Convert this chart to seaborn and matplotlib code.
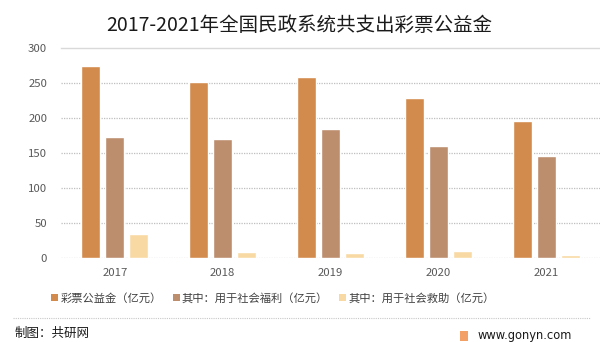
import matplotlib
matplotlib.use("Agg")
import matplotlib.pyplot as plt
from matplotlib.patches import Patch, Rectangle
from matplotlib.lines import Line2D
import seaborn as sns
import pandas as pd

years = ["2017", "2018", "2019", "2020", "2021"]
series_names = ["彩票公益金（亿元）", "其中：用于社会福利（亿元）", "其中：用于社会救助（亿元）"]
lottery_total = [275, 252, 259, 229, 196]
welfare = [173, 170, 185, 160, 146]
relief = [35, 9.5, 7.5, 10.5, 5]
colors = ["#D38B4D", "#BC8E6E", "#F8D9A3"]
yticks = [0, 50, 100, 150, 200, 250, 300]
title = "2017-2021年全国民政系统共支出彩票公益金"
source_text = "制图：共研网"
site_text = "www.gonyn.com"

rows = []
for name, vals in zip(series_names, [lottery_total, welfare, relief]):
    for y, v in zip(years, vals):
        rows.append({"year": y, "series": name, "value": v})
df = pd.DataFrame(rows)

sns.set_theme(style="white")
plt.rcParams['font.family'] = ['Noto Sans CJK SC', 'DejaVu Sans']

fig = plt.figure(figsize=(6.0, 3.42), dpi=100)
ax = fig.add_axes([61/600, 83.7/342, 539/600, 210/342])

sns.barplot(data=df, x="year", y="value", hue="series", hue_order=series_names,
            palette=colors, width=0.667, gap=0.208, ax=ax, legend=False,
            saturation=1, errorbar=None)

ax.set_ylim(0, 300)
ax.set_xlim(-0.5, 4.5)
ax.set_yticks(yticks)
ax.set_xlabel("")
ax.set_ylabel("")
for s in ["left", "right", "bottom"]:
    ax.spines[s].set_visible(False)
ax.spines["top"].set_visible(True)
ax.spines["top"].set_color("#D9D9D9")
ax.spines["top"].set_linewidth(1.0)
for t in yticks[:-1]:
    ax.axhline(t, color="#BFBFBF", linestyle=(0, (1, 1)), linewidth=0.9, zorder=0)
ax.tick_params(axis="both", length=0, labelsize=8.2, labelcolor="#595959")
ax.tick_params(axis="y", pad=10)
ax.tick_params(axis="x", pad=7)

fig.text(299/600, 1 - 25/342, title, ha="center", va="center", fontsize=14, color="#1A1A1A")

handles = [Patch(facecolor=c, edgecolor="none") for c in colors]
fig.legend(handles, series_names, loc="center", bbox_to_anchor=(273/600, 1 - 298/342),
           ncol=3, frameon=False, fontsize=8.1, handlelength=0.6, handleheight=0.6,
           handletextpad=0.2, columnspacing=1.0, labelcolor="#404040")

fig.add_artist(Line2D([13/600, 590/600], [1 - 318/342, 1 - 318/342], color="#C8C8C8",
                      linestyle=(0, (1, 1)), linewidth=0.8, transform=fig.transFigure))

fig.text(15/600, 1 - 333/342, source_text, ha="left", va="center", fontsize=9, color="#1A1A1A")
fig.patches.append(Rectangle((460/600, 1 - 341/342), 8/600, 10/342, facecolor="#F3A066",
                             edgecolor="none", transform=fig.transFigure, figure=fig))
fig.text(478/600, 1 - 335/342, site_text, ha="left", va="center", fontsize=8.3, color="#1A1A1A",
         family=["DejaVu Sans"])

fig.savefig("out.png", dpi=100, facecolor="white")
